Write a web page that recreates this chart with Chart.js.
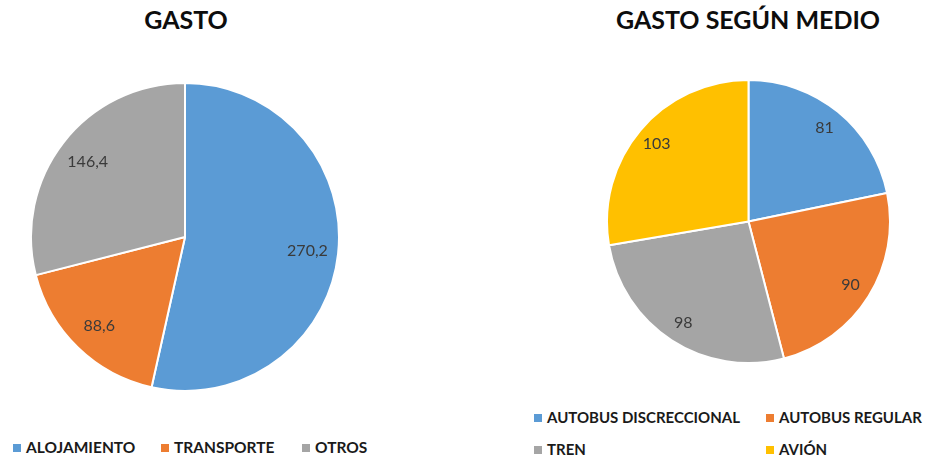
<!DOCTYPE html>
<html>
<head>
<meta charset="utf-8">
<script src="https://cdn.jsdelivr.net/npm/chart.js@4/dist/chart.umd.min.js"></script>
<style>
  body { margin: 0; background: #fff; font-family: Lato, "Open Sans", sans-serif; }
  #wrap { position: relative; width: 925px; height: 461px; overflow: hidden; }
  .title { position: absolute; top: 4px; font-weight: bold; font-size: 25px; color: #0d0d0d; text-align: center; }
  .box { position: absolute; }
  .legend { position: absolute; font-weight: bold; font-size: 15.5px; color: #1a1a1a; }
  .item { position: absolute; white-space: nowrap; line-height: 18px; }
  .item i { display: inline-block; width: 8px; height: 8px; margin-right: 5px; vertical-align: 1px; }
</style>
</head>
<body>
<div id="wrap">
  <div class="title" style="left:86px;width:200px">GASTO</div>
  <div class="title" style="left:598px;width:300px">GASTO SEGÚN MEDIO</div>
  <div class="box" style="left:30px;top:82px;width:310px;height:310px"><canvas id="gastoChart"></canvas></div>
  <div class="box" style="left:606px;top:79px;width:285px;height:285px"><canvas id="medioChart"></canvas></div>
  <div class="legend" id="gastoLegend"></div>
  <div class="legend" id="medioLegend" style="font-size:15px"></div>
</div>
<script>
const gastoLabels = ["ALOJAMIENTO", "TRANSPORTE", "OTROS"];
const gastoValues = [270.2, 88.6, 146.4];
const gastoColors = ["#5B9BD5", "#ED7D31", "#A5A5A5"];

const medioLabels = ["AUTOBUS DISCRECCIONAL", "AUTOBUS REGULAR", "TREN", "AVIÓN"];
const medioValues = [81, 90, 98, 103];
const medioColors = ["#5B9BD5", "#ED7D31", "#A5A5A5", "#FFC000"];

// values written inside each slice, Excel style
const sliceLabels = {
  id: "sliceLabels",
  afterDatasetsDraw(chart, args, opts) {
    const { ctx } = chart;
    const meta = chart.getDatasetMeta(0);
    const data = chart.data.datasets[0].data;
    ctx.save();
    ctx.font = "16px Lato, 'Open Sans', sans-serif";
    ctx.fillStyle = "#3a3a3a";
    ctx.textAlign = "center";
    ctx.textBaseline = "middle";
    meta.data.forEach((arc, i) => {
      const p = arc.getProps(["x", "y", "startAngle", "endAngle", "outerRadius"], true);
      const mid = (p.startAngle + p.endAngle) / 2;
      const r = p.outerRadius * opts.ratio;
      const txt = data[i].toLocaleString("es-ES");
      ctx.fillText(txt, p.x + Math.cos(mid) * r, p.y + Math.sin(mid) * r);
    });
    ctx.restore();
  }
};

function makePie(id, labels, values, colors, ratio) {
  return new Chart(document.getElementById(id), {
    type: "pie",
    data: { labels, datasets: [{ data: values, backgroundColor: colors, borderColor: "#fff", borderWidth: 2 }] },
    options: {
      responsive: true, maintainAspectRatio: false, animation: false,
      layout: { padding: 0 },
      plugins: { legend: { display: false }, tooltip: { enabled: false }, sliceLabels: { ratio } },
    },
    plugins: [sliceLabels],
  });
}

function makeLegend(id, labels, colors, spots) {
  const el = document.getElementById(id);
  labels.forEach((lab, i) => {
    const d = document.createElement("div");
    d.className = "item";
    d.style.left = spots[i][0] + "px";
    d.style.top = spots[i][1] + "px";
    d.innerHTML = '<i style="background:' + colors[i] + '"></i>' + lab;
    el.appendChild(d);
  });
}

makePie("gastoChart", gastoLabels, gastoValues, gastoColors, 0.8);
makePie("medioChart", medioLabels, medioValues, medioColors, 0.85);
makeLegend("gastoLegend", gastoLabels, gastoColors, [[13, 438], [161, 438], [302, 438]]);
makeLegend("medioLegend", medioLabels, medioColors, [[534, 408], [766, 408], [534, 440], [766, 440]]);
</script>
</body>
</html>
